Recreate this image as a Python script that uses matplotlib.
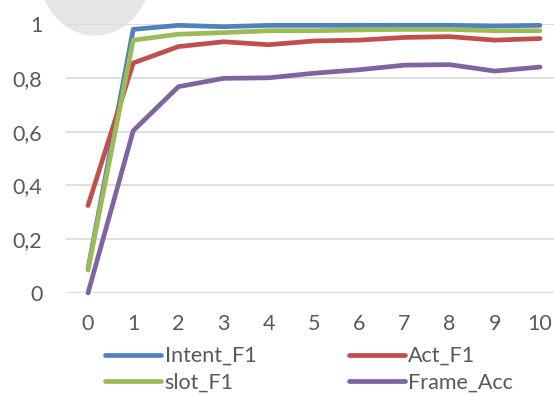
import matplotlib.pyplot as plt
from matplotlib.patches import Ellipse

epochs = [0, 1, 2, 3, 4, 5, 6, 7, 8, 9, 10]
intent_f1 = [0.09, 0.98, 0.995, 0.99, 0.995, 0.995, 0.995, 0.995, 0.995, 0.993, 0.995]
act_f1 = [0.325, 0.855, 0.916, 0.934, 0.923, 0.937, 0.94, 0.95, 0.953, 0.94, 0.946]
slot_f1 = [0.085, 0.94, 0.962, 0.968, 0.975, 0.975, 0.978, 0.98, 0.98, 0.975, 0.975]
frame_acc = [0.0, 0.603, 0.767, 0.798, 0.8, 0.817, 0.83, 0.847, 0.849, 0.825, 0.84]

names = ["Intent_F1", "Act_F1", "slot_F1", "Frame_Acc"]
colors = ["#4f81bd", "#c0504d", "#9bbb59", "#8064a2"]
series = [intent_f1, act_f1, slot_f1, frame_acc]

plt.rcParams['font.family'] = ['Lato', 'DejaVu Sans']

fig = plt.figure(figsize=(5.54, 3.96), dpi=100)
# grey blob at the top of the screenshot
blob = Ellipse((95/554, 1 + 30/396), 112/554, 130/396,
               transform=fig.transFigure, color="#e6e6e6", zorder=-5)
fig.patches.append(blob)
ax = fig.add_axes([66/554, 103/396, 488/554, 269/396], zorder=1)
ax.patch.set_alpha(0)

lines = []
for vals, c, n in zip(series, colors, names):
    l, = ax.plot(epochs, vals, color=c, lw=3.4, label=n, clip_on=False,
                 solid_capstyle="round", solid_joinstyle="round")
    lines.append(l)

ax.set_xlim(-0.487, 10.31)
ax.set_ylim(0, 1)
ax.set_yticks([0, 0.2, 0.4, 0.6, 0.8, 1])
ax.set_yticklabels(["0", "0,2", "0,4", "0,6", "0,8", "1"])
ax.set_xticks(epochs)
ax.grid(axis="y", color="#d9d9d9", lw=1.2)
ax.set_axisbelow(True)
for s in ax.spines.values():
    s.set_visible(False)
ax.tick_params(length=0, labelsize=15.5, colors="#595959")
ax.tick_params(axis="y", pad=17)
ax.tick_params(axis="x", pad=15)

order = [0, 2, 1, 3]
leg = fig.legend([lines[i] for i in order], [names[i] for i in order],
                 ncol=2, frameon=False, fontsize=15.5, labelcolor="#595959",
                 handlelength=2.6, handletextpad=0.15, columnspacing=4.3,
                 labelspacing=0.3, loc="lower left",
                 bbox_to_anchor=(86/554, -16/396))

fig.savefig("out.png", dpi=100)
